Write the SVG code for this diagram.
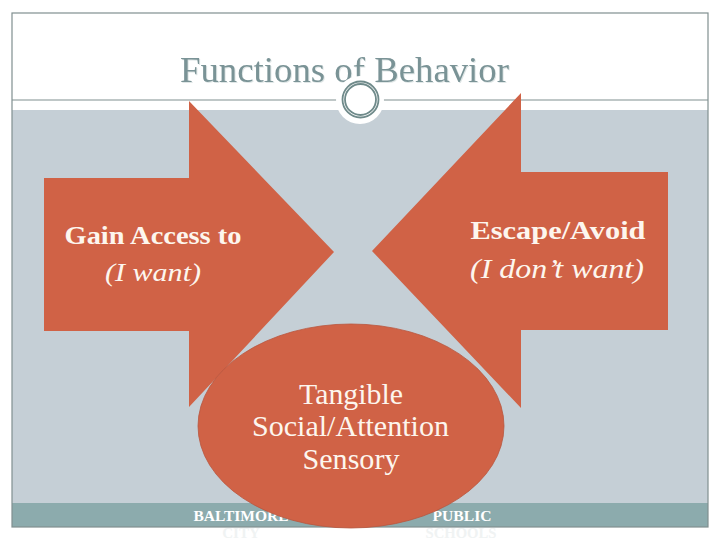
<svg xmlns="http://www.w3.org/2000/svg" width="720" height="540" viewBox="0 0 720 540">
<style>
text{font-family:"Liberation Serif","DejaVu Serif",serif;text-anchor:middle}
.shape{fill:#d06246}
.bold{font-weight:bold;font-size:25px;fill:#fdf6ee}
.ital{font-style:italic;fill:#fdf6ee}
.oval{font-size:29px;fill:#fdf6ee}
.foot{font-size:15px;font-weight:bold;fill:#fff}
.ghost{font-size:15px;font-weight:bold;fill:#f0f3f3}
.rule{fill:none;stroke:#808f90;stroke-width:1.200}
.ring{fill:none;stroke:#6f8a8a;stroke-width:1.800}
</style>
<rect width="720" height="540" fill="#fff"/>
<g id="frame">
<rect x="12" y="110" width="696" height="393" fill="#c5cfd6"/>
<rect x="12" y="503" width="696" height="24" fill="#8cabad"/>
<rect class="rule" x="12" y="13" width="696" height="514"/>
<line class="rule" x1="12" y1="100" x2="708" y2="100"/>
</g>
<g id="title">
<text x="344.500" y="82" font-size="35" fill="#7a9396" textLength="329" lengthAdjust="spacingAndGlyphs" style="filter:drop-shadow(1px 1px 0 #dfe6e6)">Functions of Behavior</text>
</g>
<g id="ornament">
<circle cx="360" cy="100" r="24" fill="#fff"/>
<circle class="ring" cx="360.500" cy="99.500" r="18"/>
<circle class="ring" cx="360.500" cy="99.500" r="15.500"/>
</g>
<g id="arrow-left">
<polygon class="shape" points="44,178 189,178 189,101 334,252 189,407 189,331 44,331"/>
<text class="bold" x="153" y="244" textLength="177" lengthAdjust="spacingAndGlyphs">Gain Access to</text>
<text class="ital" x="153" y="281" font-size="25" textLength="96" lengthAdjust="spacingAndGlyphs">(I want)</text>
</g>
<g id="arrow-right">
<polygon class="shape" points="668,172 521,172 521,93 372,251 521,408 521,330 668,330"/>
<text class="bold" x="558" y="239" textLength="175" lengthAdjust="spacingAndGlyphs">Escape/Avoid</text>
<text class="ital" x="557" y="278" font-size="28" textLength="174" lengthAdjust="spacingAndGlyphs">(I don’t want)</text>
</g>
<g id="footer">
<text class="foot" x="241" y="521" textLength="95" lengthAdjust="spacingAndGlyphs">BALTIMORE</text>
<text class="foot" x="462" y="521" textLength="59" lengthAdjust="spacingAndGlyphs">PUBLIC</text>
<text class="ghost" x="241" y="538">CITY</text>
<text class="ghost" x="461" y="538" textLength="71" lengthAdjust="spacingAndGlyphs">SCHOOLS</text>
</g>
<g id="oval">
<ellipse class="shape" cx="351" cy="426" rx="153" ry="102" stroke="#b9563d" stroke-width="0.800"/>
<text class="oval" x="351" y="404" textLength="104" lengthAdjust="spacingAndGlyphs">Tangible</text>
<text class="oval" x="350.500" y="436" textLength="197" lengthAdjust="spacingAndGlyphs">Social/Attention</text>
<text class="oval" x="351" y="469" textLength="97" lengthAdjust="spacingAndGlyphs">Sensory</text>
</g>
</svg>
